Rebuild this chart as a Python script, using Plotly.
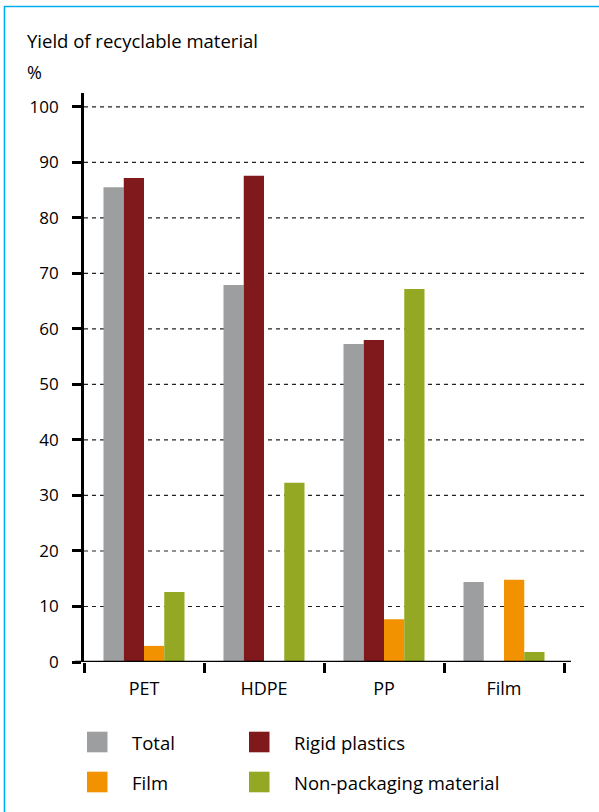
import plotly.graph_objects as go

categories = ["PET", "HDPE", "PP", "Film"]
series_names = ["Total", "Rigid plastics", "Film", "Non-packaging material"]
total = [85.5, 67.9, 57.3, 14.4]
rigid = [87.2, 87.6, 58.0, 0]
film = [2.9, 0, 7.7, 14.8]
nonpack = [12.6, 32.3, 67.2, 1.8]
colors = ["#9d9ea0", "#7f191b", "#f39200", "#95a823"]
y_ticks = list(range(0, 101, 10))

FONT = "Open Sans"
W, H = 599, 812
L, R, T, B = 84, 35, 93, 150
PW, PH = W - L - R, H - T - B


def px(x):
    return (x - L) / PW


def py(y):
    return (H - B - y) / PH


fig = go.Figure()
for name, vals, col in zip(series_names, [total, rigid, film, nonpack], colors):
    fig.add_trace(go.Bar(x=categories, y=vals, name=name, marker=dict(color=col, line=dict(width=0)),
                         showlegend=False))

shapes = []
# dashed gridlines
for v in y_ticks[1:]:
    shapes.append(dict(type="line", xref="paper", yref="y", x0=0, x1=px(588), y0=v, y1=v,
                       line=dict(color="#222", width=1.2, dash="4px,4px"), layer="below"))
# x-axis baseline
shapes.append(dict(type="line", xref="paper", yref="y", x0=px(75), x1=px(571), y0=0, y1=0,
                   line=dict(color="black", width=2.5), layer="above"))
# blue frame
shapes.append(dict(type="rect", xref="paper", yref="paper", x0=px(4.5), x1=px(640), y0=py(6.5), y1=py(900),
                   line=dict(color="#00aeef", width=1.6), fillcolor="rgba(0,0,0,0)", layer="below"))

annotations = [
    dict(text="Yield of recyclable material", xref="paper", yref="paper", x=px(25), y=py(41),
         xanchor="left", yanchor="middle", showarrow=False, font=dict(family=FONT, size=18.5, color="black")),
    dict(text="%", xref="paper", yref="paper", x=px(25), y=py(72),
         xanchor="left", yanchor="middle", showarrow=False, font=dict(family=FONT, size=18, color="black")),
]

# legend (2 columns)
leg_pos = [(87, 742, 130), (249, 742, 292), (87, 782, 130), (249, 782, 292)]
for name, col, (sx, cy, tx) in zip(series_names, colors, leg_pos):
    shapes.append(dict(type="rect", xref="paper", yref="paper", x0=px(sx), x1=px(sx + 20.5),
                       y0=py(cy - 10.3), y1=py(cy + 10.3), fillcolor=col, line=dict(width=0)))
    annotations.append(dict(text=name, xref="paper", yref="paper", x=px(tx), y=py(cy),
                            xanchor="left", yanchor="middle", showarrow=False,
                            font=dict(family=FONT, size=18.5, color="black")))

fig.update_layout(
    width=W, height=H,
    margin=dict(l=L, r=R, t=T, b=B),
    paper_bgcolor="white", plot_bgcolor="white",
    barmode="group", bargap=0.325, bargroupgap=0,
    font=dict(family=FONT, size=17, color="black"),
    shapes=shapes, annotations=annotations,
    showlegend=False,
)
fig.update_xaxes(type="category", range=[-0.5, 3.5], tickson="boundaries", ticks="outside",
                 ticklen=10, tickwidth=2.5, tickcolor="black", showline=False, showgrid=False,
                 zeroline=False, ticklabelstandoff=14, tickfont=dict(family=FONT, size=18, color="black"))
fig.update_yaxes(range=[0, 102.5], tickvals=y_ticks, ticks="outside", ticklen=9, tickwidth=2.5,
                 tickcolor="black", showline=True, linewidth=2.8, linecolor="black", showgrid=False,
                 zeroline=False, ticklabelstandoff=10, tickfont=dict(family=FONT, size=17, color="black"))

fig.write_html("out.html", config={"displayModeBar": False},
               post_script="document.body.style.margin='0';")
